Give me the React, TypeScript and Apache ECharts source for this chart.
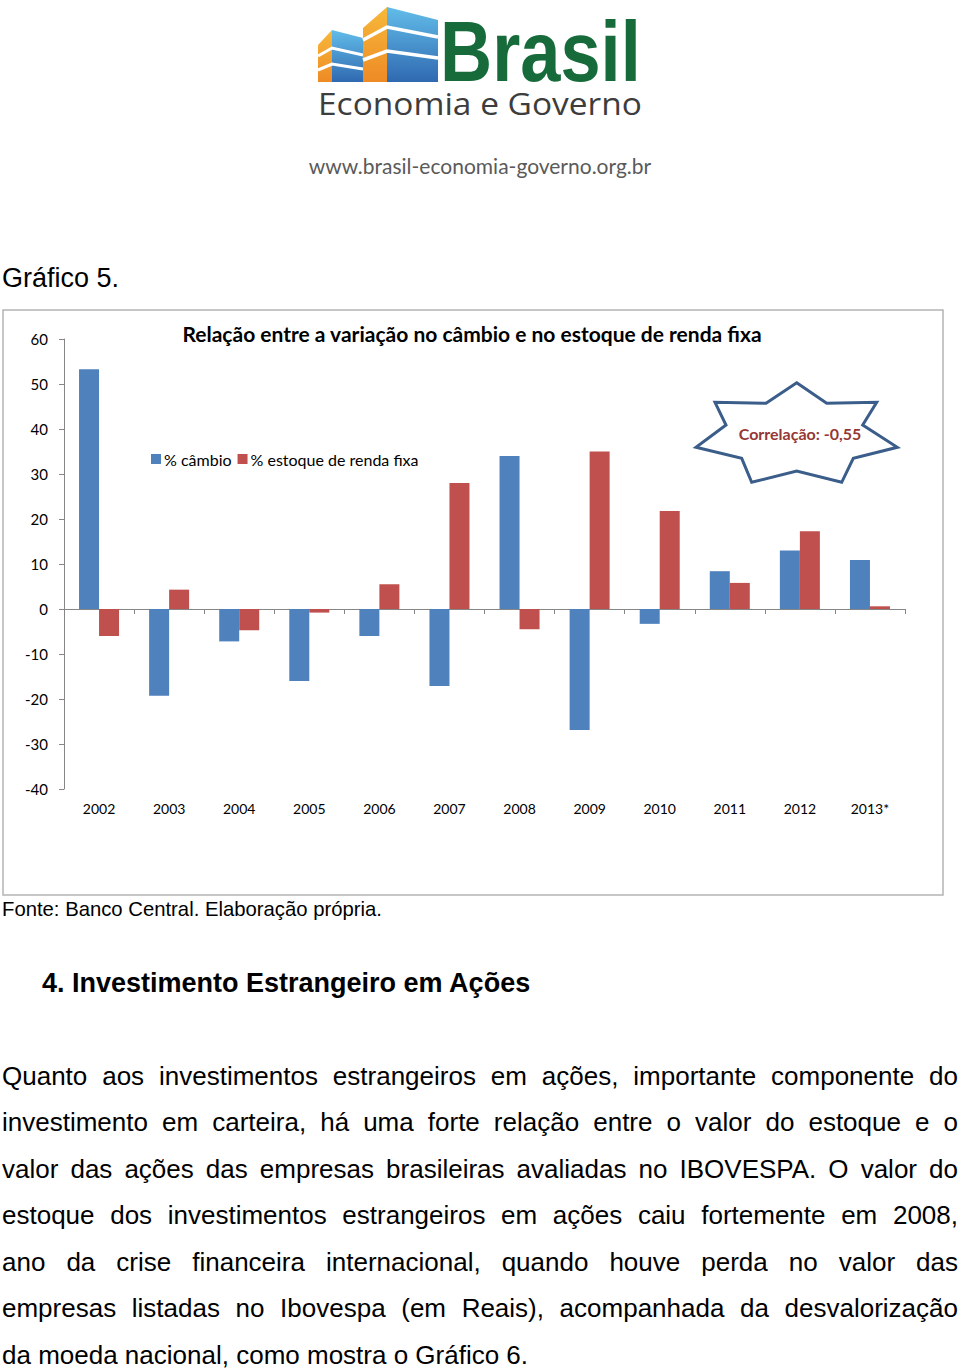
import React, { useEffect, useRef } from "react";
import * as echarts from "echarts";

const categories = ["2002", "2003", "2004", "2005", "2006", "2007", "2008", "2009", "2010", "2011", "2012", "2013*"];
const cambio = [53.3, -19.3, -7.2, -16.0, -6.0, -17.1, 34.0, -26.9, -3.3, 8.4, 13.0, 10.9];
const estoque = [-6.0, 4.3, -4.7, -0.8, 5.5, 28.0, -4.5, 35.0, 21.8, 5.8, 17.3, 0.6];
const seriesNames = ["% câmbio", "% estoque de renda fixa"];
const yMin = -40;
const yMax = 60;
const yInterval = 10;

const paragraphLines = [
  "Quanto aos investimentos estrangeiros em ações, importante componente do",
  "investimento em carteira, há uma forte relação entre o valor do estoque e o",
  "valor das ações das empresas brasileiras avaliadas no IBOVESPA. O valor do",
  "estoque dos investimentos estrangeiros em ações caiu fortemente em 2008,",
  "ano da crise financeira internacional, quando houve perda no valor das",
  "empresas listadas no Ibovespa (em Reais), acompanhada da desvalorização",
  "da moeda nacional, como mostra o Gráfico 6.",
];

const CAL = "Lato, 'Open Sans', sans-serif";
const ARIAL = "'Liberation Sans', Arial, sans-serif";

export default function App() {
  const ref = useRef<HTMLDivElement>(null);

  useEffect(() => {
    if (!ref.current) return;
    const chart = echarts.init(ref.current, null, { renderer: "svg" });
    const axisGrey = "#868686";
    const orangeGrad = new echarts.graphic.LinearGradient(0, 0, 0, 1, [
      { offset: 0, color: "#f7b93a" },
      { offset: 1, color: "#ee8a25" },
    ]);
    const blueGrad = new echarts.graphic.LinearGradient(0, 0, 0, 1, [
      { offset: 0, color: "#62bde9" },
      { offset: 1, color: "#2f69b1" },
    ]);
    const option: any = {
      animation: false,
      backgroundColor: "#ffffff",
      grid: [
        { left: 64, right: 55, top: 339, bottom: 582 },
        { left: 64, right: 55, top: 339, bottom: 582 },
      ],
      legend: {
        data: seriesNames,
        left: 146,
        top: 446,
        icon: "rect",
        itemWidth: 10,
        itemHeight: 10,
        itemGap: 6,
        textStyle: { fontSize: 16, fontFamily: CAL, color: "#000", padding: [0, 0, 0, -2] },
      },
      xAxis: [
        {
          type: "category",
          gridIndex: 0,
          data: categories,
          position: "bottom",
          axisLine: { show: false, onZero: false },
          axisTick: { show: false },
          axisLabel: { fontSize: 14, fontFamily: CAL, color: "#000", margin: 12 },
        },
        {
          type: "category",
          gridIndex: 1,
          data: categories,
          position: "bottom",
          axisLine: { show: true, onZero: true, lineStyle: { color: axisGrey, width: 1 } },
          axisTick: { show: true, length: 5, lineStyle: { color: axisGrey } },
          axisLabel: { show: false },
        },
      ],
      yAxis: [
        {
          type: "value",
          gridIndex: 0,
          min: yMin,
          max: yMax,
          interval: yInterval,
          axisLine: { show: true, lineStyle: { color: axisGrey } },
          axisTick: { show: true, length: 5, lineStyle: { color: axisGrey } },
          axisLabel: { fontSize: 15, fontFamily: CAL, color: "#000", margin: 16 },
          splitLine: { show: false },
        },
        {
          type: "value",
          gridIndex: 1,
          min: yMin,
          max: yMax,
          interval: yInterval,
          show: false,
        },
      ],
      series: [
        {
          name: seriesNames[0],
          type: "bar",
          xAxisIndex: 0,
          yAxisIndex: 0,
          data: cambio,
          barWidth: 20,
          barGap: "0%",
          itemStyle: { color: "#4f81bd" },
          z: 3,
        },
        {
          name: seriesNames[1],
          type: "bar",
          xAxisIndex: 0,
          yAxisIndex: 0,
          data: estoque,
          barWidth: 20,
          barGap: "0%",
          itemStyle: { color: "#c0504d" },
          z: 3,
        },
      ],
      graphic: [
        // chart frame
        {
          type: "rect",
          shape: { x: 3, y: 310, width: 940, height: 585 },
          style: { fill: "none", stroke: "#b4b4b4", lineWidth: 1.5 },
          z: -1,
        },
        // logo buildings
        { type: "polygon", shape: { points: [[318, 45], [332, 30], [332, 82], [318, 82]] }, style: { fill: orangeGrad } },
        { type: "polygon", shape: { points: [[332, 30], [363, 38], [363, 82], [332, 82]] }, style: { fill: blueGrad } },
        { type: "polyline", shape: { points: [[318, 56], [332, 48], [363, 55]] }, style: { stroke: "#fff", lineWidth: 3, fill: "none" } },
        { type: "polyline", shape: { points: [[318, 70], [332, 64], [363, 69]] }, style: { stroke: "#fff", lineWidth: 3, fill: "none" } },
        { type: "polygon", shape: { points: [[363, 28], [387, 7], [387, 82], [363, 82]] }, style: { fill: orangeGrad } },
        { type: "polygon", shape: { points: [[387, 7], [438, 20], [438, 82], [387, 82]] }, style: { fill: blueGrad } },
        { type: "polyline", shape: { points: [[363, 40], [387, 27], [438, 37]] }, style: { stroke: "#fff", lineWidth: 3.5, fill: "none" } },
        { type: "polyline", shape: { points: [[363, 60], [387, 51], [438, 58]] }, style: { stroke: "#fff", lineWidth: 3.5, fill: "none" } },
        {
          type: "text",
          x: 440,
          y: 51,
          scaleX: 0.84,
          style: {
            text: "Brasil",
            font: "bold 86px 'Liberation Sans', Arial, sans-serif",
            fill: "#176b3b",
            align: "left",
            verticalAlign: "middle",
          },
        },
        {
          type: "text",
          x: 318,
          y: 103,
          scaleX: 1.08,
          style: {
            text: "Economia e Governo",
            font: "31px 'Open Sans', sans-serif",
            fill: "#3d3d3d",
            align: "left",
            verticalAlign: "middle",
          },
        },
        {
          type: "text",
          x: 480,
          y: 165,
          style: {
            text: "www.brasil-economia-governo.org.br",
            font: "21px Lato, sans-serif",
            fill: "#5a5a5a",
            align: "center",
            verticalAlign: "middle",
          },
        },
        // page texts
        {
          type: "text",
          x: 2,
          y: 278,
          style: { text: "Gráfico 5.", font: "27px " + ARIAL, fill: "#000", align: "left", verticalAlign: "middle" },
        },
        {
          type: "text",
          x: 2,
          y: 909,
          style: { text: "Fonte: Banco Central. Elaboração própria.", font: "20.3px " + ARIAL, fill: "#000", align: "left", verticalAlign: "middle" },
        },
        {
          type: "text",
          x: 42,
          y: 983,
          style: { text: "4. Investimento Estrangeiro em Ações", font: "bold 27px " + ARIAL, fill: "#000", align: "left", verticalAlign: "middle" },
        },
        // chart title
        {
          type: "text",
          x: 472,
          y: 333,
          style: {
            text: "Relação entre a variação no câmbio e no estoque de renda fixa",
            font: "bold 21px " + CAL,
            fill: "#000",
            align: "center",
            verticalAlign: "middle",
          },
        },
        // star callout
        {
          type: "polygon",
          shape: {
            points: [
              [796.7, 382.7], [826.7, 403.3], [876.7, 402.3], [862.7, 425], [897.3, 447.3],
              [853.3, 458.3], [841.7, 482.3], [796.7, 471], [751.7, 482.3], [741.7, 458.3],
              [696, 447.3], [726, 425], [715, 402.3], [766, 403.3],
            ],
          },
          style: { fill: "#fff", stroke: "#3b5d8a", lineWidth: 3, lineJoin: "miter" },
          z: 10,
        },
        {
          type: "text",
          x: 800,
          y: 433,
          z: 11,
          style: {
            text: "Correlação: -0,55",
            font: "bold 16px " + CAL,
            fill: "#953735",
            align: "center",
            verticalAlign: "middle",
          },
        },
      ],
    };
    chart.setOption(option);
    return () => chart.dispose();
  }, []);

  return (
    <div style={{ position: "absolute", left: 0, top: 0, width: 960, height: 1371, background: "#fff", overflow: "hidden" }}>
      <div ref={ref} style={{ position: "absolute", left: 0, top: 0, width: 960, height: 1371 }} />
      {paragraphLines.map((line, i) => {
        const last = i === paragraphLines.length - 1;
        return (
          <div
            key={i}
            style={{
              position: "absolute",
              left: 2,
              width: 956,
              top: 1076 + i * 46.5 - 23.25,
              height: 46.5,
              lineHeight: "46.5px",
              fontFamily: ARIAL,
              fontSize: 26,
              color: "#000",
              whiteSpace: "nowrap",
              textAlign: last ? "left" : "justify",
              textAlignLast: last ? "left" : "justify",
            }}
          >
            {line}
          </div>
        );
      })}
    </div>
  );
}
